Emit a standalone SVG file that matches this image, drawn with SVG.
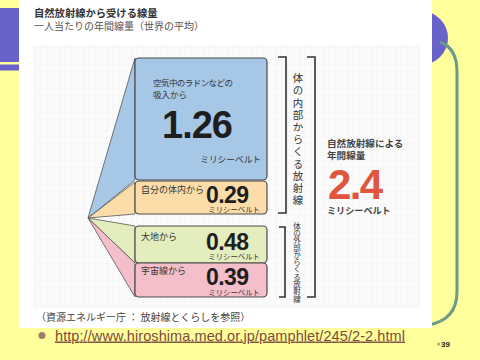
<svg xmlns="http://www.w3.org/2000/svg" width="480" height="360" viewBox="0 0 480 360">
<defs>
<style>
.jp{font-family:"Noto Sans CJK JP","Noto Sans",sans-serif;fill:#333}
.num{font-family:"Liberation Sans",Arial,sans-serif;font-weight:bold;fill:#1e1e1e}
.box{stroke:#4a4a4a;stroke-width:1.2}
.fan{stroke:#555;stroke-width:0.8;stroke-linejoin:round}
.brk{fill:none;stroke:#333;stroke-width:1.6}
.vt{font-family:"Noto Sans CJK JP",sans-serif;fill:#333;writing-mode:vertical-rl;text-orientation:upright}
</style>
<pattern id="grid" width="6" height="6" patternUnits="userSpaceOnUse">
<rect width="6" height="6" fill="#fbfbfb"/>
<path d="M6 0V6M0 6H6" stroke="#f0f0f0" stroke-width="0.6" fill="none"/>
</pattern>
</defs>
<rect width="480" height="360" fill="#FFFF9C"/>
<rect x="0" y="8" width="20" height="54" fill="#6962C9"/>
<rect x="0" y="64.5" width="20" height="6" fill="#6962C9"/>
<circle cx="421" cy="38" r="27" fill="#6962C9"/>
<path d="M440 42 Q457 48 457 72 L457 292 Q457 320 428 325" fill="none" stroke="#6A9A8A" stroke-width="3"/>
<rect x="19" y="0" width="413" height="328" fill="#ffffff"/>
<rect x="33" y="45" width="387" height="263" fill="url(#grid)"/>
<text class="jp" x="34" y="16.5" font-size="10.3" font-weight="bold">自然放射線から受ける線量</text>
<text class="jp" x="34" y="29.5" font-size="10" style="fill:#555">一人当たりの年間線量（世界の平均）</text>
<g id="connectors">
<polygon class="fan" points="88,218 135,58 135,180" fill="#A7C7E7"/>
<polygon class="fan" points="88,218 135,182 135,214" fill="#FCDDAA"/>
<polygon class="fan" points="88,218 135,226 135,263" fill="#E4EDBE"/>
<polygon class="fan" points="88,218 135,263 135,297" fill="#F4BFCB"/>
</g>
<g id="radon">
<rect class="box" x="135" y="58" width="132" height="122" rx="4" fill="#A7C7E7"/>
<text class="jp" x="153" y="86" font-size="8.5" textLength="80">空気中のラドンなどの</text>
<text class="jp" x="153" y="98" font-size="8.5">吸入から</text>
<text class="num" x="162" y="138" font-size="38" textLength="71">1.26</text>
<text class="jp" x="261" y="163" font-size="8.7" text-anchor="end">ミリシーベルト</text>
</g>
<g id="internal">
<rect class="box" x="135" y="181" width="132" height="33" rx="4" fill="#FCDDAA"/>
<text class="jp" x="141" y="193.4" font-size="9">自分の体内から</text>
<text class="num" x="206" y="203" font-size="23" textLength="43">0.29</text>
<text class="jp" x="260" y="212" font-size="7.4" text-anchor="end">ミリシーベルト</text>
</g>
<g id="ground">
<rect class="box" x="135" y="226" width="132" height="37" rx="4" fill="#E4EDBE"/>
<text class="jp" x="141" y="240.4" font-size="9">大地から</text>
<text class="num" x="206" y="250" font-size="23" textLength="43">0.48</text>
<text class="jp" x="260" y="259" font-size="7.4" text-anchor="end">ミリシーベルト</text>
</g>
<g id="cosmic">
<rect class="box" x="135" y="263" width="132" height="34" rx="4" fill="#F4BFCB"/>
<text class="jp" x="141" y="274.4" font-size="9">宇宙線から</text>
<text class="num" x="206" y="285" font-size="23" textLength="43">0.39</text>
<text class="jp" x="260" y="295" font-size="7.4" text-anchor="end">ミリシーベルト</text>
</g>
<g id="inner-bracket">
<path class="brk" d="M278 57H286V213H278"/>
<text class="vt" x="298" y="73" font-size="10.5" letter-spacing="1.7">体の内部からくる放射線</text>
</g>
<g id="outer-bracket">
<path class="brk" d="M279 227H285V297H279"/>
<text class="vt" x="297" y="222" font-size="7.5" letter-spacing="-0.2">体の外部からくる放射線</text>
</g>
<g id="total-bracket">
<path class="brk" d="M307 57H315V297H307"/>
</g>
<g id="total">
<text class="jp" x="327" y="146.7" font-size="9.6" font-weight="bold" style="fill:#444">自然放射線による</text>
<text class="jp" x="327" y="158.7" font-size="9.6" font-weight="bold" style="fill:#444">年間線量</text>
<text class="num" x="328" y="199" font-size="42" textLength="55" style="fill:#E0553D">2.4</text>
<text class="jp" x="327" y="213.6" font-size="9.1" font-weight="bold" style="fill:#444">ミリシーベルト</text>
</g>
<text class="jp" x="36" y="321" font-size="10" style="fill:#444">（資源エネルギー庁 ： 放射線とくらしを参照）</text>
<circle cx="42" cy="335.5" r="3.5" fill="#A27A68"/>
<text x="55" y="340.5" font-family="Liberation Sans,Arial,sans-serif" font-size="14.5" fill="#7E4B3E" textLength="350" text-decoration="underline">http://www.hiroshima.med.or.jp/pamphlet/245/2-2.html</text>
<circle cx="438.5" cy="344" r="1.5" fill="#C8956A"/>
<text x="441" y="346.5" font-family="Liberation Sans,Arial,sans-serif" font-size="8" font-weight="bold" fill="#222">39</text>
</svg>
